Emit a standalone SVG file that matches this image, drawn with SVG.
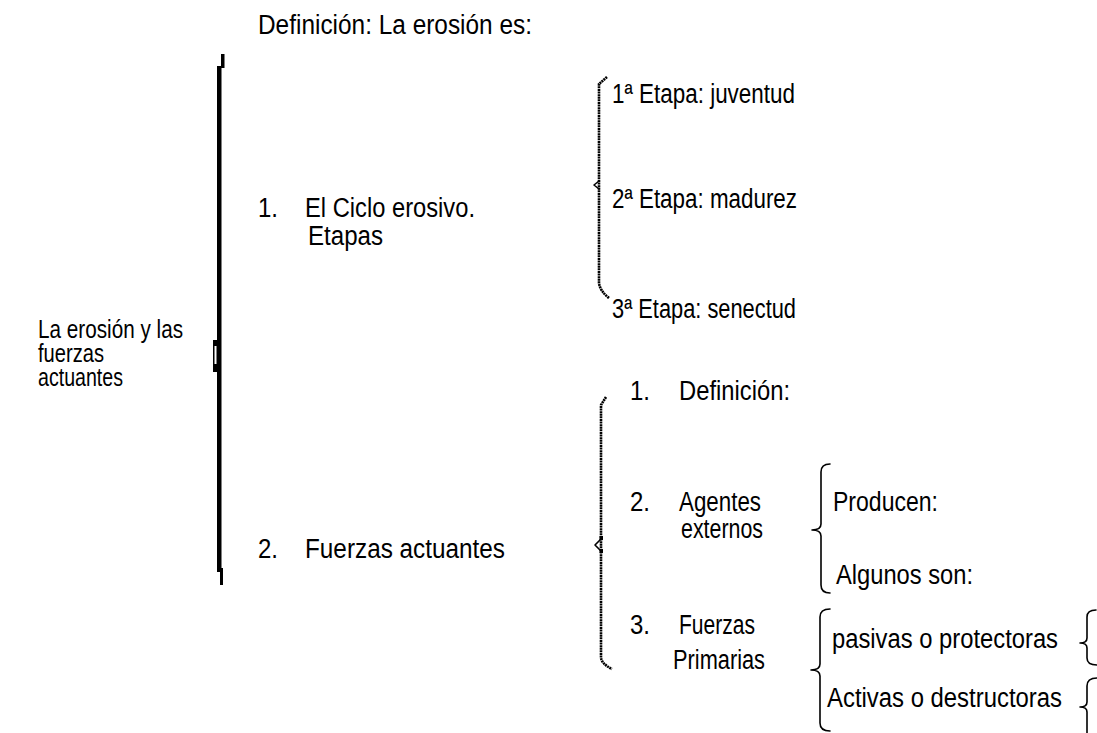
<svg xmlns="http://www.w3.org/2000/svg" width="1097" height="733" viewBox="0 0 1097 733">
<style>
text{font-family:"Liberation Sans",Arial,sans-serif;font-size:27px;fill:#000}
.sm{font-size:26px}
.br{fill:none;stroke:#000;stroke-width:1.6;stroke-linecap:round;stroke-linejoin:round}
.db{fill:none;stroke:#000;stroke-width:2.6;stroke-dasharray:2 0.6}
</style>
<rect width="1097" height="733" fill="#fff"/>
<g id="connectors">
<g id="main-bracket">
<rect x="217" y="66" width="4.5" height="506" fill="#000"/>
<rect x="221" y="54" width="3.5" height="14" fill="#000"/>
<rect x="220" y="568" width="3" height="17" fill="#000"/>
<rect x="213" y="340" width="5" height="32" fill="#000"/>
<rect x="214.5" y="346" width="2" height="18" fill="#fff"/>
</g>
<g id="etapas-bracket">
<path class="db" d="M607 77 L599 84 L599 283 Q600 291 609 298"/>
<path class="br" d="M599 181 L594 185 L599 189"/>
</g>
<g id="fuerzas-bracket">
<path class="db" d="M606 397 L601 405 L601 658 Q602 664 612 669"/>
<path class="br" d="M601 539 L595 545 L601 551"/>
<rect x="599.5" y="536" width="3.5" height="4" fill="#000"/>
<rect x="599.5" y="549" width="3.5" height="4" fill="#000"/>
</g>
<path class="br" d="M830 464 Q821 464 821 472 L821 524 Q821 530 812 530 Q821 530 821 536 L821 585 Q821 593 830 593"/>
<path class="br" d="M830 609 Q820 609 820 617 L820 664 Q820 670 811 670 Q820 670 820 676 L820 723 Q820 731 830 731"/>
<path class="br" d="M1096 610 Q1087 610 1087 617 L1087 638 Q1087 643 1080 643 Q1087 643 1087 648 L1087 658 Q1087 665 1097 665"/>
<path class="br" d="M1097 678 Q1087 678 1087 686 L1087 702 Q1087 707 1080 707 Q1087 707 1087 712 L1087 740"/>
</g>
<g id="def"><text x="258" y="34" textLength="274" lengthAdjust="spacingAndGlyphs">Definición: La erosión es:</text></g>
<g id="root"><text class="sm" x="38" y="338" textLength="145" lengthAdjust="spacingAndGlyphs">La erosión y las</text><text class="sm" x="38" y="362" textLength="66" lengthAdjust="spacingAndGlyphs">fuerzas</text><text class="sm" x="38" y="386" textLength="85" lengthAdjust="spacingAndGlyphs">actuantes</text></g>
<g id="ciclo"><text x="258" y="217" textLength="20" lengthAdjust="spacingAndGlyphs">1.</text><text x="305" y="217" textLength="170" lengthAdjust="spacingAndGlyphs">El Ciclo erosivo.</text><text x="308" y="245" textLength="75" lengthAdjust="spacingAndGlyphs">Etapas</text></g>
<g id="etapa1"><text x="612" y="103" textLength="183" lengthAdjust="spacingAndGlyphs">1ª Etapa: juventud</text></g>
<g id="etapa2"><text x="612" y="208" textLength="185" lengthAdjust="spacingAndGlyphs">2ª Etapa: madurez</text></g>
<g id="etapa3"><text x="612" y="318" textLength="184" lengthAdjust="spacingAndGlyphs">3ª Etapa: senectud</text></g>
<g id="fuerzas"><text x="258" y="558" textLength="20" lengthAdjust="spacingAndGlyphs">2.</text><text x="305" y="558" textLength="200" lengthAdjust="spacingAndGlyphs">Fuerzas actuantes</text></g>
<g id="f-def"><text x="630" y="400" textLength="20" lengthAdjust="spacingAndGlyphs">1.</text><text x="679" y="400" textLength="111" lengthAdjust="spacingAndGlyphs">Definición:</text></g>
<g id="agentes"><text x="630" y="511" textLength="20" lengthAdjust="spacingAndGlyphs">2.</text><text x="679" y="511" textLength="82" lengthAdjust="spacingAndGlyphs">Agentes</text><text x="681" y="538" textLength="82" lengthAdjust="spacingAndGlyphs">externos</text></g>
<g id="producen"><text x="833" y="511" textLength="105" lengthAdjust="spacingAndGlyphs">Producen:</text></g>
<g id="algunos"><text x="836" y="584" textLength="137" lengthAdjust="spacingAndGlyphs">Algunos son:</text></g>
<g id="primarias"><text x="630" y="634" textLength="20" lengthAdjust="spacingAndGlyphs">3.</text><text x="679" y="634" textLength="76" lengthAdjust="spacingAndGlyphs">Fuerzas</text><text x="673" y="669" textLength="92" lengthAdjust="spacingAndGlyphs">Primarias</text></g>
<g id="pasivas"><text x="832" y="648" textLength="226" lengthAdjust="spacingAndGlyphs">pasivas o protectoras</text></g>
<g id="activas"><text x="827" y="707" textLength="235" lengthAdjust="spacingAndGlyphs">Activas o destructoras</text></g>
</svg>
